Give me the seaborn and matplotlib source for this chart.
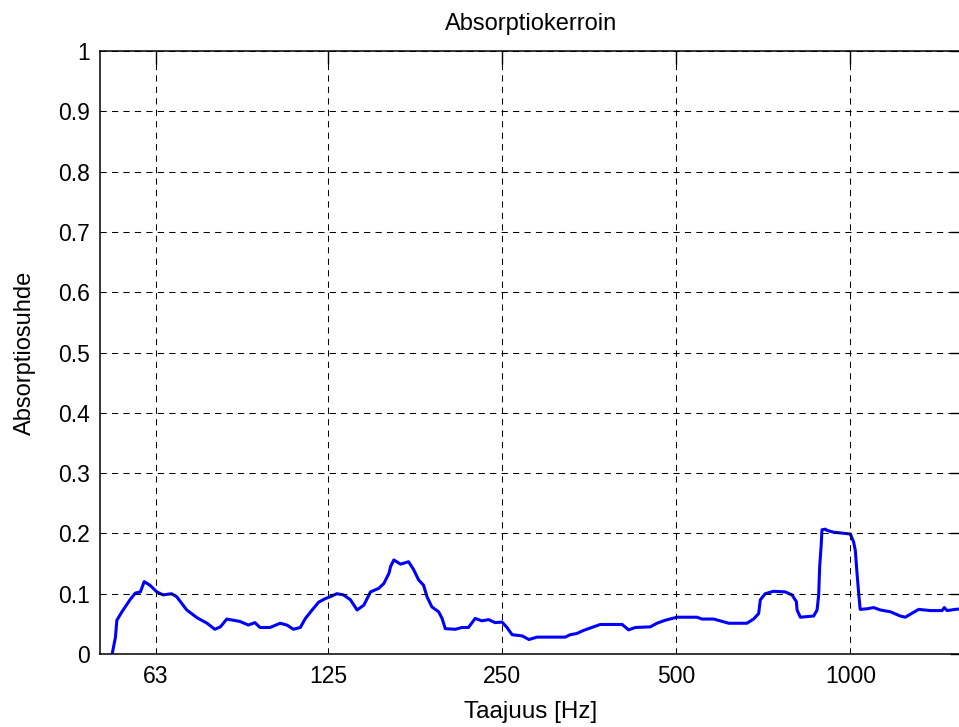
import matplotlib
matplotlib.use("Agg")
import matplotlib.pyplot as plt
import matplotlib.ticker as mticker
import seaborn as sns
import pandas as pd

freq = [52.9, 53.6, 53.9, 55.0, 56.8, 58.0, 59.2, 60.1, 61.5, 63.2, 64.8, 67.0, 68.4,
        71.2, 74.2, 77.2, 79.6, 81.4, 83.5, 85.7, 88.0, 91.0, 93.4, 95.3, 99.2,
        103.3, 106.1, 108.9, 111.9, 114.2, 117.3, 120.4, 123.7, 126.1, 129.4, 132.9,
        136.6, 140.3, 144.1, 148.0, 153.0, 156.1, 159.3, 160.3, 162.4, 166.8, 172.2,
        175.7, 179.2, 182.8, 185.3, 189.0, 194.1, 196.8, 199.3, 207.4, 213.0, 218.6,
        224.5, 230.6, 236.9, 243.1, 249.8, 254.8, 260.1, 270.8, 278.1, 287.2, 315.0,
        321.3, 327.8, 336.5, 345.4, 354.8, 369.6, 403.1, 413.6, 424.9, 450.9, 463.0,
        478.6, 501.4, 543.0, 554.0, 580.2, 616.4, 662.5, 680.3, 694.1, 698.9, 712.6,
        736.7, 771.7, 792.6, 806.6, 808.9, 819.6, 864.0, 876.0, 881.6, 885.1, 890.1,
        893.3, 905.1, 911.3, 935.6, 1000, 1013, 1020, 1027, 1034, 1040, 1069, 1097,
        1127, 1173, 1220, 1245, 1270, 1313, 1376, 1441, 1454, 1470, 1519, 1560, 1600]
absorption = [0.0, 0.028, 0.056, 0.070, 0.090, 0.101, 0.103, 0.120, 0.114, 0.103, 0.098,
              0.100, 0.095, 0.073, 0.060, 0.051, 0.041, 0.045, 0.058, 0.056, 0.054, 0.048,
              0.052, 0.044, 0.044, 0.051, 0.048, 0.041, 0.044, 0.059, 0.073, 0.086, 0.092,
              0.095, 0.100, 0.098, 0.090, 0.073, 0.081, 0.103, 0.109, 0.117, 0.134, 0.145,
              0.156, 0.149, 0.153, 0.140, 0.123, 0.114, 0.095, 0.078, 0.070, 0.059, 0.042,
              0.041, 0.044, 0.044, 0.059, 0.055, 0.057, 0.052, 0.053, 0.044, 0.032, 0.030,
              0.024, 0.028, 0.028, 0.028, 0.032, 0.034, 0.039, 0.043, 0.049, 0.049, 0.040,
              0.044, 0.045, 0.051, 0.056, 0.061, 0.061, 0.058, 0.058, 0.051, 0.051, 0.058,
              0.067, 0.090, 0.100, 0.104, 0.103, 0.098, 0.087, 0.073, 0.061, 0.063, 0.073,
              0.098, 0.145, 0.178, 0.206, 0.207, 0.205, 0.202, 0.199, 0.186, 0.172, 0.134,
              0.100, 0.074, 0.075, 0.077, 0.073, 0.070, 0.063, 0.061, 0.066, 0.074, 0.072,
              0.072, 0.077, 0.072, 0.074, 0.075, 0.075]
x_ticks = [63, 125, 250, 500, 1000]
x_tick_labels = ["63", "125", "250", "500", "1000"]
y_ticks = [0, 0.1, 0.2, 0.3, 0.4, 0.5, 0.6, 0.7, 0.8, 0.9, 1]
y_tick_labels = ["0", "0.1", "0.2", "0.3", "0.4", "0.5", "0.6", "0.7", "0.8", "0.9", "1"]

sns.set_style("white")
plt.rcParams["font.family"] = ["Liberation Sans", "DejaVu Sans"]

df = pd.DataFrame({"freq": freq, "absorption": absorption})

W, H = 959, 727
fig = plt.figure(figsize=(W / 100, H / 100), dpi=100)
fig.patch.set_facecolor("white")
left, right, top, bottom = 100, 962, 51, 654
ax = fig.add_axes([left / W, (H - bottom) / H, (right - left) / W, (bottom - top) / H])

sns.lineplot(data=df, x="freq", y="absorption", ax=ax, color="#0000ff",
             linewidth=2.2, sort=False, estimator=None)

ax.set_xscale("log")
ax.set_xlim(50.4, 1560)
ax.set_ylim(0, 1)
ax.xaxis.set_major_locator(mticker.FixedLocator(x_ticks))
ax.xaxis.set_major_formatter(mticker.FixedFormatter(x_tick_labels))
ax.xaxis.set_minor_locator(mticker.NullLocator())
ax.yaxis.set_major_locator(mticker.FixedLocator(y_ticks))
ax.yaxis.set_major_formatter(mticker.FixedFormatter(y_tick_labels))

ax.grid(True, which="major", color="black", linestyle=(0, (6, 5)), linewidth=0.75)
ax.set_axisbelow(False)
for s in ax.spines.values():
    s.set_visible(True)
    s.set_color("black")
    s.set_linewidth(1.1)

ax.tick_params(axis="both", which="major", direction="in", length=9, width=1.0,
               colors="black", labelsize=16.5, top=True, right=True)
ax.tick_params(axis="x", pad=8)
ax.tick_params(axis="y", pad=7)

ax.set_title("Absorptiokerroin", fontsize=17, pad=15, color="black")
ax.set_xlabel("Taajuus [Hz]", fontsize=17.5, color="black")
ax.set_ylabel("Absorptiosuhde", fontsize=17, color="black")
ax.yaxis.set_label_coords(-0.074, 0.5)
ax.xaxis.set_label_coords(0.5, -0.078)

fig.savefig("out.png", dpi=100, facecolor="white")
